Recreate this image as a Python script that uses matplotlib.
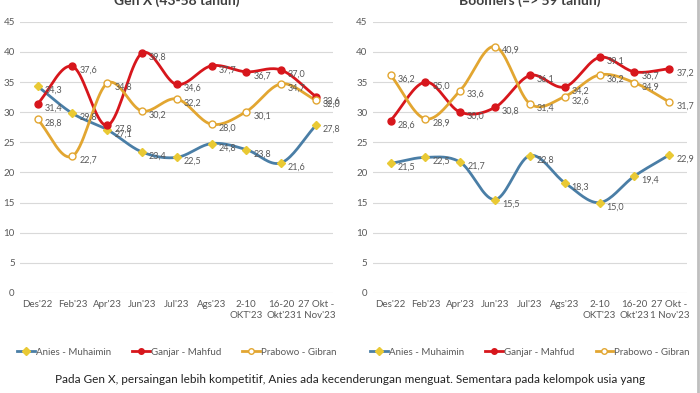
import numpy as np
import matplotlib.pyplot as plt

plt.rcParams['font.family'] = ['Lato', 'DejaVu Sans']

categories = ["Des'22", "Feb'23", "Apr'23", "Jun'23", "Jul'23", "Ags'23",
              "2-10\nOKT'23", "16-20\nOkt'23", "27 Okt -\n1 Nov'23"]

genx_anies = [34.3, 29.8, 27.1, 23.4, 22.5, 24.8, 23.8, 21.6, 27.8]
genx_ganjar = [31.4, 37.6, 27.8, 39.8, 34.6, 37.7, 36.7, 37.0, 32.6]
genx_prabowo = [28.8, 22.7, 34.8, 30.2, 32.2, 28.0, 30.1, 34.7, 32.0]

boom_anies = [21.5, 22.5, 21.7, 15.5, 22.8, 18.3, 15.0, 19.4, 22.9]
boom_ganjar = [28.6, 35.0, 30.0, 30.8, 36.1, 34.2, 39.1, 36.7, 37.2]
boom_prabowo = [36.2, 28.9, 33.6, 40.9, 31.4, 32.6, 36.2, 34.9, 31.7]

blue = '#4a7ea6'
yellow = '#e9c934'
red = '#d7161c'
gold = '#e2a631'
grid = '#d9d9d9'
txt = '#595959'


# smooth line like Excel (Catmull-Rom through the points)
def smooth(x, y, n=20):
    x = np.asarray(x, float)
    y = np.asarray(y, float)
    px = np.concatenate([[2 * x[0] - x[1]], x, [2 * x[-1] - x[-2]]])
    py = np.concatenate([[2 * y[0] - y[1]], y, [2 * y[-1] - y[-2]]])
    xs, ys = [], []
    t = np.linspace(0, 1, n)
    for i in range(1, len(px) - 2):
        for p, out in ((px, xs), (py, ys)):
            p0, p1, p2, p3 = p[i - 1], p[i], p[i + 1], p[i + 2]
            out.extend(0.5 * ((2 * p1) + (-p0 + p2) * t
                              + (2 * p0 - 5 * p1 + 4 * p2 - p3) * t ** 2
                              + (-p0 + 3 * p1 - 3 * p2 + p3) * t ** 3))
    return xs, ys


def panel(ax, title, anies, ganjar, prabowo):
    x = np.arange(len(categories))
    series = [
        (anies, blue, 'D', yellow, yellow, 'Anies - Muhaimin'),
        (ganjar, red, 'o', red, red, 'Ganjar - Mahfud'),
        (prabowo, gold, 'o', 'white', gold, 'Prabowo - Gibran'),
    ]
    for vals, lc, mk, mfc, mec, lab in series:
        sx, sy = smooth(x, vals)
        ax.plot(sx, sy, color=lc, lw=2, zorder=2)
        ax.plot(x, vals, ls='none', marker=mk, ms=4.5 if mk == 'D' else 5,
                mfc=mfc, mec=mec, mew=1, zorder=3)
        ax.plot([], [], color=lc, lw=2, marker=mk, ms=4, mfc=mfc, mec=mec,
                label=lab)
        for xi, v in zip(x, vals):
            ax.annotate(f'{v:.1f}'.replace('.', ','), (xi, v),
                        xytext=(5, -3), textcoords='offset points',
                        fontsize=6.5, color=txt, va='center', zorder=4)
    ax.set_xlim(-0.5, len(categories) - 0.5)
    ax.set_ylim(0, 45)
    ax.set_yticks(range(0, 46, 5))
    ax.set_xticks(x)
    ax.set_xticklabels(categories, fontsize=7, color=txt, linespacing=1.3)
    ax.tick_params(axis='y', labelsize=7, labelcolor=txt, length=0, pad=4)
    ax.tick_params(axis='x', length=0, pad=5)
    ax.grid(axis='y', color=grid, lw=0.8)
    ax.set_axisbelow(True)
    for s in ax.spines.values():
        s.set_visible(False)
    ax.set_title(title, fontsize=10, fontweight='bold', color='#404040',
                 pad=12)
    ax.legend(loc='upper center', bbox_to_anchor=(0.5, -0.17), ncol=3,
              frameon=False, fontsize=7, labelcolor=txt, handlelength=1.8,
              columnspacing=2.2, handletextpad=0.1)


fig = plt.figure(figsize=(7, 3.93), dpi=100)
ax1 = fig.add_axes([0.029, 0.2545, 0.447, 0.69])
ax2 = fig.add_axes([0.533, 0.2545, 0.448, 0.69])
panel(ax1, 'Gen X (43-58 tahun)', genx_anies, genx_ganjar, genx_prabowo)
panel(ax2, 'Boomers (=> 59 tahun)', boom_anies, boom_ganjar, boom_prabowo)

fig.text(0.5, 0.025, 'Pada Gen X, persaingan lebih kompetitif, Anies ada '
         'kecenderungan menguat. Sementara pada kelompok usia yang',
         ha='center', fontsize=8.5, color='#222222')
fig.add_artist(plt.Line2D([0.997, 0.997], [0, 1], color='#bfbfbf', lw=2))

fig.savefig('out.png', dpi=100)
